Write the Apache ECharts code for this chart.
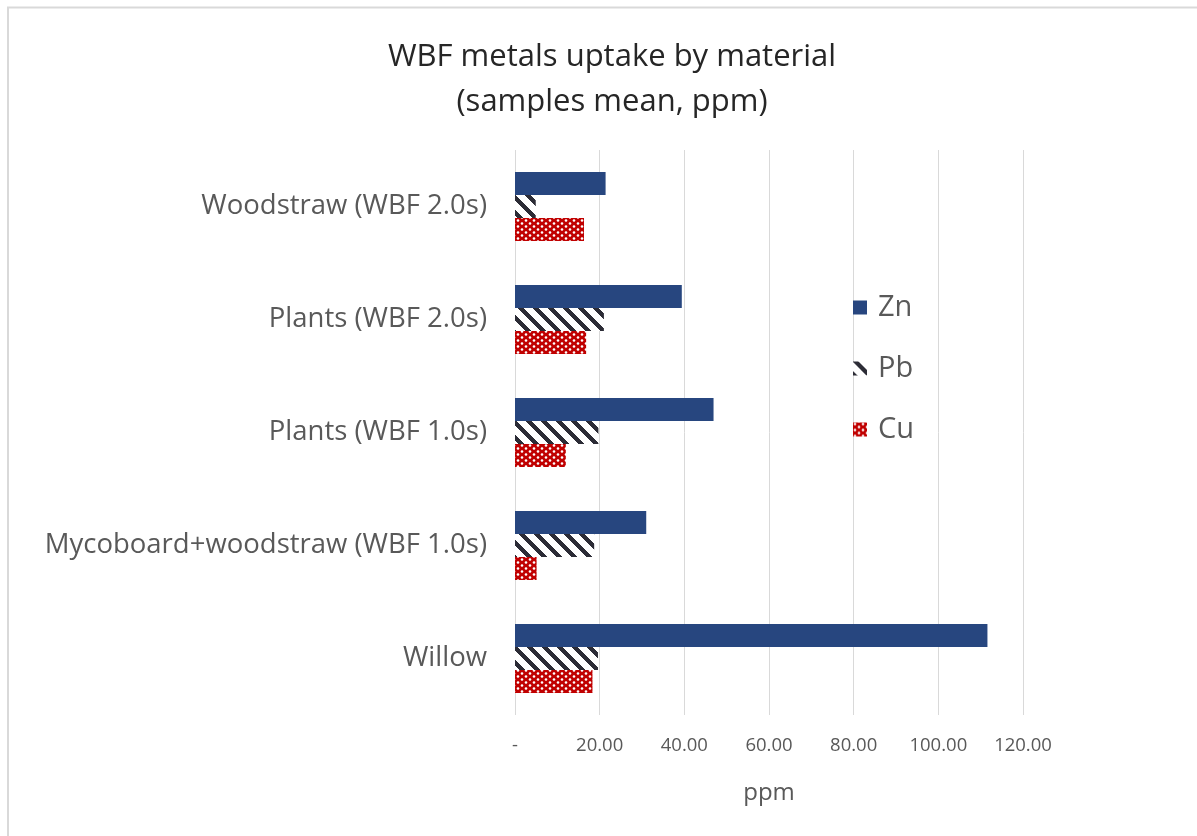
<!DOCTYPE html>
<html>
<head>
<meta charset="utf-8">
<script src="https://cdn.jsdelivr.net/npm/echarts@6/dist/echarts.min.js"></script>
<style>
html,body{margin:0;padding:0;background:#fff;}
#chart{width:1197px;height:836px;}
</style>
</head>
<body>
<div id="chart"></div>
<script>
const categories = ['Willow', 'Mycoboard+woodstraw (WBF 1.0s)', 'Plants (WBF 1.0s)', 'Plants (WBF 2.0s)', 'Woodstraw (WBF 2.0s)'];
const seriesNames = ['Zn', 'Pb', 'Cu'];
const znValues = [111.6, 31.0, 46.9, 39.4, 21.4];
const pbValues = [19.6, 18.7, 19.7, 21.0, 4.9];
const cuValues = [18.3, 5.1, 12.0, 16.8, 16.3];
const xTicks = [0, 20, 40, 60, 80, 100, 120];

function stripePattern() {
  const p = 15, c = document.createElement('canvas');
  c.width = p; c.height = p;
  const ctx = c.getContext('2d');
  const img = ctx.createImageData(p, p);
  for (let y = 0; y < p; y++) for (let x = 0; x < p; x++) {
    const d = (((x - y) % p) + p) % p;
    const dark = d < 6;
    const i = (y * p + x) * 4;
    const v = dark ? [44, 44, 54] : [255, 255, 255];
    img.data[i] = v[0]; img.data[i+1] = v[1]; img.data[i+2] = v[2]; img.data[i+3] = 255;
  }
  ctx.putImageData(img, 0, 0);
  return c;
}
function dotPattern() {
  const c = document.createElement('canvas');
  c.width = 8; c.height = 6;
  const ctx = c.getContext('2d');
  ctx.fillStyle = '#c00000';
  ctx.fillRect(0, 0, 8, 6);
  ctx.fillStyle = '#ffffff';
  ctx.beginPath(); ctx.arc(2, 1.5, 1.3, 0, Math.PI * 2); ctx.fill();
  ctx.beginPath(); ctx.arc(6, 4.5, 1.3, 0, Math.PI * 2); ctx.fill();
  return c;
}

const colors = ['#27467f', {image: stripePattern(), repeat: 'repeat'}, {image: dotPattern(), repeat: 'repeat'}];
const values = [znValues, pbValues, cuValues];

const chart = echarts.init(document.getElementById('chart'));
const font = '"Open Sans", "Noto Sans", sans-serif';
chart.setOption({
  animation: false,
  backgroundColor: '#ffffff',
  textStyle: {fontFamily: font},
  title: {
    text: 'WBF metals uptake by material\n(samples mean, ppm)',
    left: 607, top: 30, textAlign: 'center',
    textStyle: {fontSize: 31, fontWeight: 'normal', color: '#262626', lineHeight: 45, fontFamily: font}
  },
  graphic: [{
    type: 'polyline', shape: {points: [[8, 836], [8, 7.5], [1197, 7.5]]},
    style: {stroke: '#d9d9d9', lineWidth: 2, fill: null}, silent: true
  }],
  legend: {
    orient: 'vertical', left: 848, top: 288,
    itemWidth: 14, itemHeight: 14, itemGap: 32,
    data: seriesNames,
    icon: 'rect',
    textStyle: {fontSize: 29, color: '#595959', fontFamily: font, padding: [0, 0, 0, 6]}
  },
  grid: {left: 515, right: 174, top: 150, bottom: 121, containLabel: false},
  xAxis: {
    type: 'value', min: xTicks[0], max: xTicks[xTicks.length - 1], interval: 20,
    name: 'ppm', nameLocation: 'middle', nameGap: 66,
    nameTextStyle: {fontSize: 24, color: '#595959', fontFamily: font},
    axisLine: {show: false}, axisTick: {show: false},
    splitLine: {lineStyle: {color: '#d9d9d9', width: 1}},
    axisLabel: {
      fontSize: 18.5, color: '#595959', margin: 21, fontFamily: font,
      formatter: v => v === 0 ? '-' : v.toFixed(2)
    }
  },
  yAxis: {
    type: 'category', data: categories,
    axisLine: {show: false}, axisTick: {show: false},
    axisLabel: {fontSize: 27.5, color: '#595959', margin: 28, fontFamily: font}
  },
  series: seriesNames.map((n, i) => ({
    name: n, type: 'bar', data: values[i],
    barWidth: 23, barGap: '0%',
    itemStyle: {color: colors[i]}
  }))
});
</script>
</body>
</html>
